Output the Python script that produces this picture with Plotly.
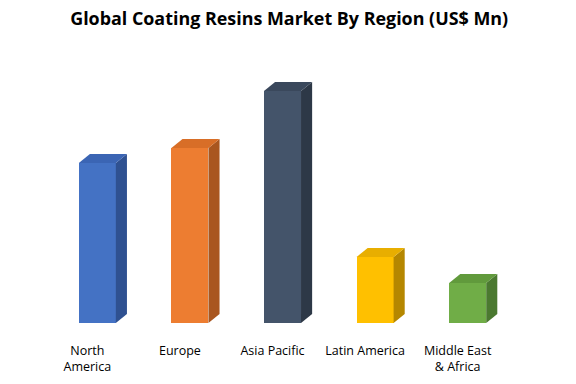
import plotly.graph_objects as go

# Data (no axis shown in reference)
categories = ["North<br>America", "Europe", "Asia Pacific", "Latin America", "Middle East<br>& Africa"]
values = [160, 175, 232, 66, 40]
front_colors = ["#4472C4", "#ED7D31", "#44546A", "#FFC000", "#70AD47"]
top_colors = ["#3B65B4", "#D86E27", "#3A485C", "#E8AE00", "#619A3C"]
side_colors = ["#2F5191", "#A9561F", "#2D3847", "#B58700", "#4B7930"]

title_text = "Global Coating Resins Market By Region (US$ Mn)"

# 3D look parameters (in data units)
bar_width = 0.40
bar_shift = 0.108
depth_x = 0.12
depth_y = 9

fig = go.Figure()

for i, (v, fc, tc, sc) in enumerate(zip(values, front_colors, top_colors, side_colors)):
    xc = i + bar_shift
    xl = xc - bar_width / 2
    xr = xc + bar_width / 2
    # side face
    fig.add_trace(go.Scatter(
        x=[xr, xr + depth_x, xr + depth_x, xr, xr],
        y=[0, depth_y, v + depth_y, v, 0],
        fill="toself", fillcolor=sc, mode="lines",
        line=dict(width=0, color=sc), hoverinfo="skip", showlegend=False))
    # top face
    fig.add_trace(go.Scatter(
        x=[xl, xl + depth_x, xr + depth_x, xr, xl],
        y=[v, v + depth_y, v + depth_y, v, v],
        fill="toself", fillcolor=tc, mode="lines",
        line=dict(width=0, color=tc), hoverinfo="skip", showlegend=False))
    # front face
    fig.add_trace(go.Bar(
        x=[xc], y=[v], width=bar_width, marker=dict(color=fc, line=dict(width=0)),
        showlegend=False, name=categories[i].replace("<br>", " ")))

fig.update_layout(
    width=576, height=384,
    margin=dict(l=4, r=35, t=40, b=61),
    paper_bgcolor="white", plot_bgcolor="white",
    title=dict(text="<b>" + title_text + "</b>", x=0.502, xanchor="center",
               y=1 - 19 / 384, yanchor="middle",
               font=dict(family="Open Sans", size=17.9, color="#000000")),
    xaxis=dict(range=[-0.9, 4.9], tickvals=list(range(len(categories))), ticktext=categories,
               showgrid=False, zeroline=False, showline=False,
               ticks="outside", ticklen=16, tickcolor="rgba(0,0,0,0)",
               tickfont=dict(family="Open Sans", size=12.5, color="#000000")),
    yaxis=dict(range=[0, 283], showgrid=False, zeroline=False, showline=False,
               showticklabels=False),
    bargap=0,
)

fig.write_html("out.html", config={"displayModeBar": False},
               post_script="document.body.style.margin='0';")
